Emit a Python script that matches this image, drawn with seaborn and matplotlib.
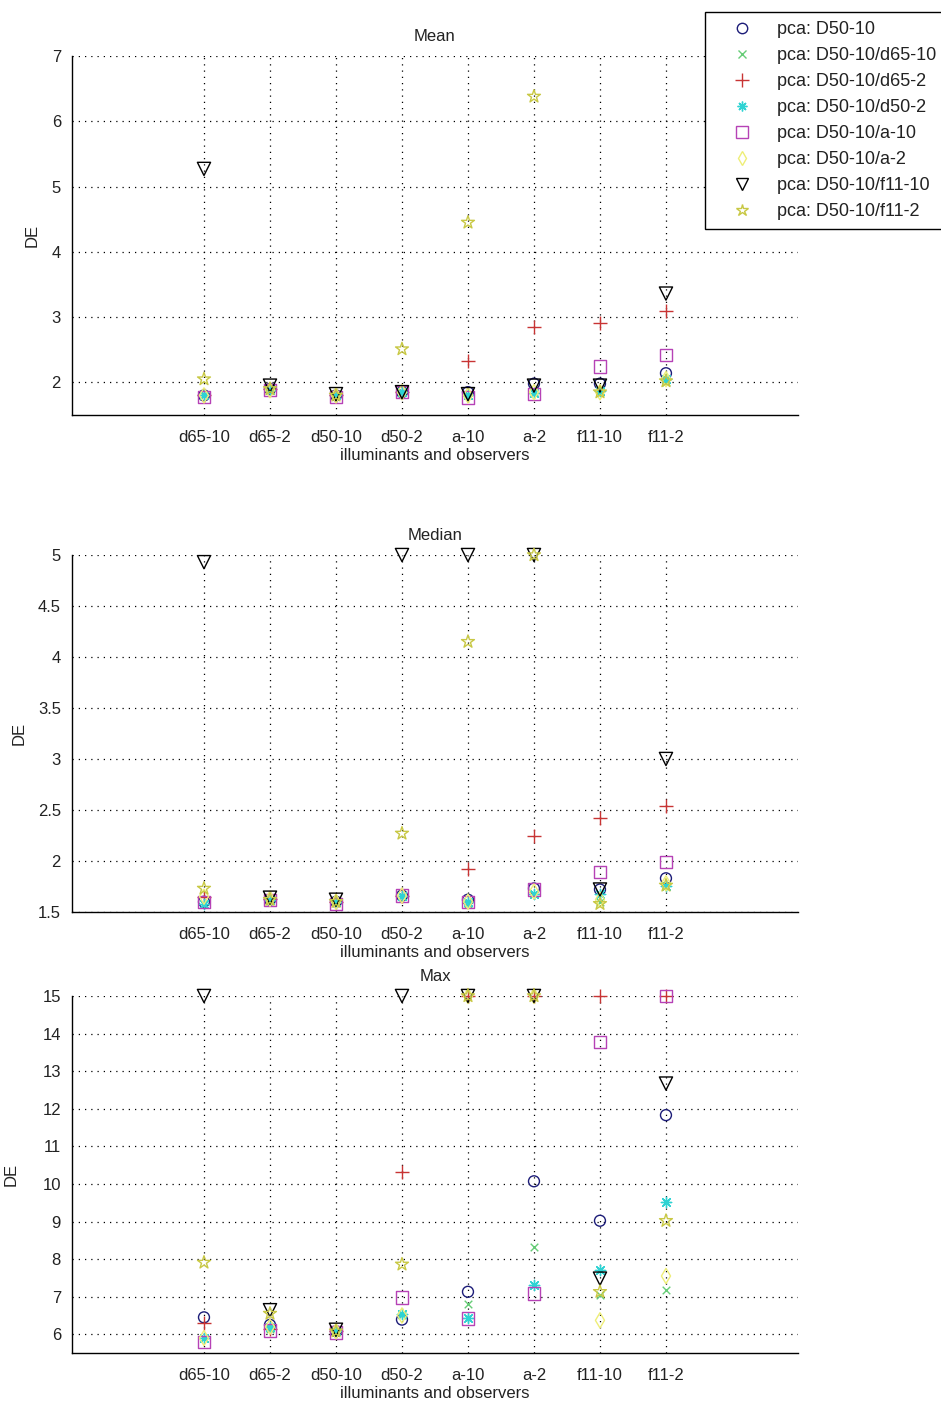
import numpy as np
import pandas as pd
import matplotlib
matplotlib.use("Agg")
import matplotlib.pyplot as plt
import seaborn as sns

# Illuminant / observer conditions on the x axis
conditions = ["d65-10", "d65-2", "d50-10", "d50-2", "a-10", "a-2", "f11-10", "f11-2"]

# Series labels
series = [
    "pca: D50-10",
    "pca: D50-10/d65-10",
    "pca: D50-10/d65-2",
    "pca: D50-10/d50-2",
    "pca: D50-10/a-10",
    "pca: D50-10/a-2",
    "pca: D50-10/f11-10",
    "pca: D50-10/f11-2",
]

# Mean DE per series (rows follow `series`, columns follow `conditions`)
mean_d50_10 = [1.80, 1.90, 1.80, 1.85, 1.85, 1.98, 1.98, 2.14]
mean_d65_10 = [1.80, 1.88, 1.80, 1.85, 1.80, 1.85, 1.85, 2.00]
mean_d65_2 = [1.80, 1.90, 1.80, 1.85, 2.32, 2.85, 2.91, 3.09]
mean_d50_2 = [1.80, 1.88, 1.80, 1.85, 1.80, 1.83, 1.87, 2.05]
mean_a_10 = [1.78, 1.88, 1.78, 1.85, 1.77, 1.82, 2.24, 2.42]
mean_a_2 = [1.80, 1.88, 1.80, 1.85, 1.80, 1.85, 1.85, 2.05]
mean_f11_10 = [5.27, 1.95, 1.82, 1.85, 1.82, 1.95, 1.95, 3.36]
mean_f11_2 = [2.05, 1.90, 1.80, 2.51, 4.45, 6.38, 1.85, 2.02]

# Median DE per series
median_d50_10 = [1.60, 1.62, 1.60, 1.66, 1.62, 1.73, 1.72, 1.83]
median_d65_10 = [1.58, 1.62, 1.60, 1.66, 1.58, 1.68, 1.60, 1.75]
median_d65_2 = [1.65, 1.63, 1.60, 1.66, 1.92, 2.24, 2.42, 2.54]
median_d50_2 = [1.58, 1.62, 1.60, 1.66, 1.60, 1.68, 1.68, 1.75]
median_a_10 = [1.60, 1.62, 1.58, 1.66, 1.60, 1.72, 1.89, 1.99]
median_a_2 = [1.65, 1.63, 1.60, 1.66, 1.60, 1.70, 1.62, 1.78]
median_f11_10 = [4.93, 1.64, 1.62, 5.00, 5.00, 5.00, 1.72, 3.00]
median_f11_2 = [1.73, 1.62, 1.60, 2.27, 4.15, 5.00, 1.58, 1.76]

# Max DE per series
max_d50_10 = [6.45, 6.25, 6.08, 6.39, 7.13, 10.07, 9.02, 11.83]
max_d65_10 = [5.90, 6.15, 6.08, 6.50, 6.80, 8.32, 7.04, 7.17]
max_d65_2 = [6.30, 6.15, 6.08, 10.33, 15.00, 15.00, 15.00, 15.00]
max_d50_2 = [5.89, 6.20, 6.08, 6.55, 6.42, 7.30, 7.70, 9.52]
max_a_10 = [5.80, 6.10, 6.05, 6.98, 6.42, 7.08, 13.78, 15.00]
max_a_2 = [5.90, 6.20, 6.08, 6.50, 15.00, 15.00, 6.37, 7.55]
max_f11_10 = [15.00, 6.64, 6.12, 15.00, 15.00, 15.00, 7.48, 12.67]
max_f11_2 = [7.91, 6.55, 6.08, 7.86, 15.00, 15.00, 7.13, 9.02]

panels = [
    ("Mean", [mean_d50_10, mean_d65_10, mean_d65_2, mean_d50_2,
              mean_a_10, mean_a_2, mean_f11_10, mean_f11_2]),
    ("Median", [median_d50_10, median_d65_10, median_d65_2, median_d50_2,
                median_a_10, median_a_2, median_f11_10, median_f11_2]),
    ("Max", [max_d50_10, max_d65_10, max_d65_2, max_d50_2,
             max_a_10, max_a_2, max_f11_10, max_f11_2]),
]

y_limits = [(1.5, 7), (1.5, 5), (5.5, 15)]
y_ticks = [np.arange(2, 7.01, 1), np.arange(1.5, 5.01, 0.5), np.arange(6, 15.01, 1)]
ylabel_x = [-0.044, -0.063, -0.074]

# Marker styles: (marker, colour, size, open face)
styles = [
    ("o", "#1c1c78", 62, True),
    ("x", "#66cc77", 30, False),
    ("+", "#c83434", 110, False),
    ((8, 2, 0), "#2ed3d3", 55, False),
    ("s", "#b642b6", 80, True),
    ("d", "#eeee77", 60, True),
    ("v", "#000000", 90, True),
    ("*", "#c8c844", 95, True),
]

sns.set_style("white")
plt.rcParams["font.family"] = ["Liberation Sans", "DejaVu Sans"]
plt.rcParams["font.size"] = 12

fig = plt.figure(figsize=(9.41, 14.03), dpi=100)
positions = [
    [0.0765, 0.7042, 0.7715, 0.2559],
    [0.0765, 0.3500, 0.7715, 0.2544],
    [0.0765, 0.0356, 0.7715, 0.2545],
]

x_pos = np.arange(1, len(conditions) + 1)
legend_handles = []

for idx, ((title, rows), pos) in enumerate(zip(panels, positions)):
    ax = fig.add_axes(pos)
    for label, values, (mk, col, size, open_face) in zip(series, rows, styles):
        df = pd.DataFrame({"x": x_pos, "DE": values})
        n_before = len(ax.collections)
        sns.scatterplot(data=df, x="x", y="DE", marker=mk, s=size, ax=ax,
                        color=col, linewidth=1.0, legend=False, zorder=3)
        coll = ax.collections[n_before]
        if open_face:
            coll.set_facecolor("none")
        coll.set_edgecolor(col)
        coll.set_linewidth(1.0)
        coll.set_clip_on(False)
        if idx == 0:
            legend_handles.append(
                plt.Line2D([], [], linestyle="none", marker=mk, markersize=np.sqrt(size) * 0.95,
                           markerfacecolor="none" if open_face else col,
                           markeredgecolor=col, markeredgewidth=1.0, label=label))

    ax.set_xlim(-1, 10)
    ax.set_ylim(*y_limits[idx])
    ax.set_xticks(x_pos)
    ax.set_xticklabels(conditions)
    ax.set_yticks(y_ticks[idx])
    if idx == 1:
        ax.set_yticklabels([("%g" % v) for v in y_ticks[idx]])
    ax.grid(True, linestyle=(0, (1, 4)), color="black", linewidth=0.9)
    ax.set_axisbelow(True)
    for side in ("top", "right"):
        ax.spines[side].set_visible(False)
    for side in ("left", "bottom"):
        ax.spines[side].set_color("black")
        ax.spines[side].set_linewidth(1.0)
    ax.tick_params(axis="both", direction="in", length=5, width=1.0, color="black",
                   labelsize=12, labelcolor="#222222")
    ax.tick_params(axis="x", pad=11)
    ax.tick_params(axis="y", pad=8)
    ax.set_title(title, fontsize=12, pad=11, color="#222222")
    ax.set_xlabel("illuminants and observers", fontsize=12, labelpad=2, color="#222222")
    ax.set_ylabel("DE", fontsize=12, color="#222222")
    ax.yaxis.set_label_coords(ylabel_x[idx], 0.5)

leg = fig.legend(handles=legend_handles, loc="upper left",
                 bbox_to_anchor=(705 / 941, 1 - 12 / 1403), borderaxespad=0,
                 frameon=True, fancybox=False, framealpha=1, edgecolor="black",
                 fontsize=13, handlelength=3.1, handletextpad=0.39,
                 borderpad=0.5, labelspacing=0.5)
leg.get_frame().set_linewidth(1.0)
for t in leg.get_texts():
    t.set_color("#222222")

fig.savefig("out.png", dpi=100, facecolor="white")
